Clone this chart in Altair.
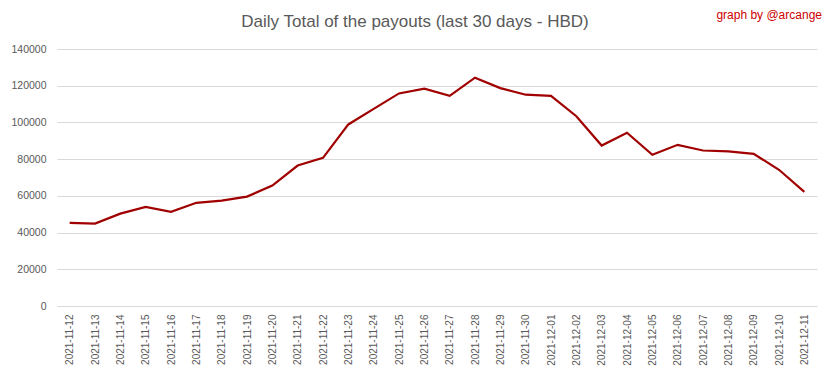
import altair as alt
import pandas as pd

dates = ["2021-11-12", "2021-11-13", "2021-11-14", "2021-11-15", "2021-11-16",
         "2021-11-17", "2021-11-18", "2021-11-19", "2021-11-20", "2021-11-21",
         "2021-11-22", "2021-11-23", "2021-11-24", "2021-11-25", "2021-11-26",
         "2021-11-27", "2021-11-28", "2021-11-29", "2021-11-30", "2021-12-01",
         "2021-12-02", "2021-12-03", "2021-12-04", "2021-12-05", "2021-12-06",
         "2021-12-07", "2021-12-08", "2021-12-09", "2021-12-10", "2021-12-11"]
payouts = [45300, 44900, 50300, 54000, 51300, 56200, 57400, 59600, 65600, 76500,
           80700, 98900, 107400, 115800, 118400, 114500, 124400, 118700, 115100, 114500,
           103400, 87400, 94400, 82400, 87800, 84700, 84200, 82900, 74200, 62200]
title_text = "Daily Total of the payouts (last 30 days - HBD)"
credit_text = "graph by @arcange"

df = pd.DataFrame({"date": dates, "value": payouts})

W, H = 760, 257
FONT = "Liberation Sans"

line = alt.Chart(df).mark_line(color="#a00000", strokeWidth=2.2).encode(
    x=alt.X("date:O", sort=None,
            scale=alt.Scale(type="point", padding=0.5),
            axis=alt.Axis(title=None, labelAngle=-90, labelFontSize=10, labelFont=FONT,
                          labelColor="#595959", ticks=False, domain=False, grid=False,
                          labelPadding=8)),
    y=alt.Y("value:Q", scale=alt.Scale(domain=[0, 140000], nice=False),
            axis=alt.Axis(title=None, values=list(range(0, 140001, 20000)), format="d",
                          labelFontSize=10.5, labelFont=FONT, labelColor="#595959",
                          ticks=False, domain=False, gridColor="#d9d9d9",
                          labelPadding=11)),
)

credit = alt.Chart(pd.DataFrame({"t": [credit_text]})).mark_text(
    align="right", baseline="middle", color="#cc0000", fontSize=12, font=FONT
).encode(text="t:N", x=alt.value(765), y=alt.value(-34))

title = alt.Chart(pd.DataFrame({"t": [title_text]})).mark_text(
    align="center", baseline="middle", color="#595959", fontSize=17, font=FONT
).encode(text="t:N", x=alt.value(358), y=alt.value(-27))

chart = alt.layer(line, credit, title).properties(
    width=W, height=H,
    autosize=alt.AutoSizeParams(type="none"),
    padding={"left": 49, "top": 41, "right": 8, "bottom": 65},
).configure_view(stroke=None)

chart.save("out.html", embed_options={"renderer": "svg", "actions": False})
